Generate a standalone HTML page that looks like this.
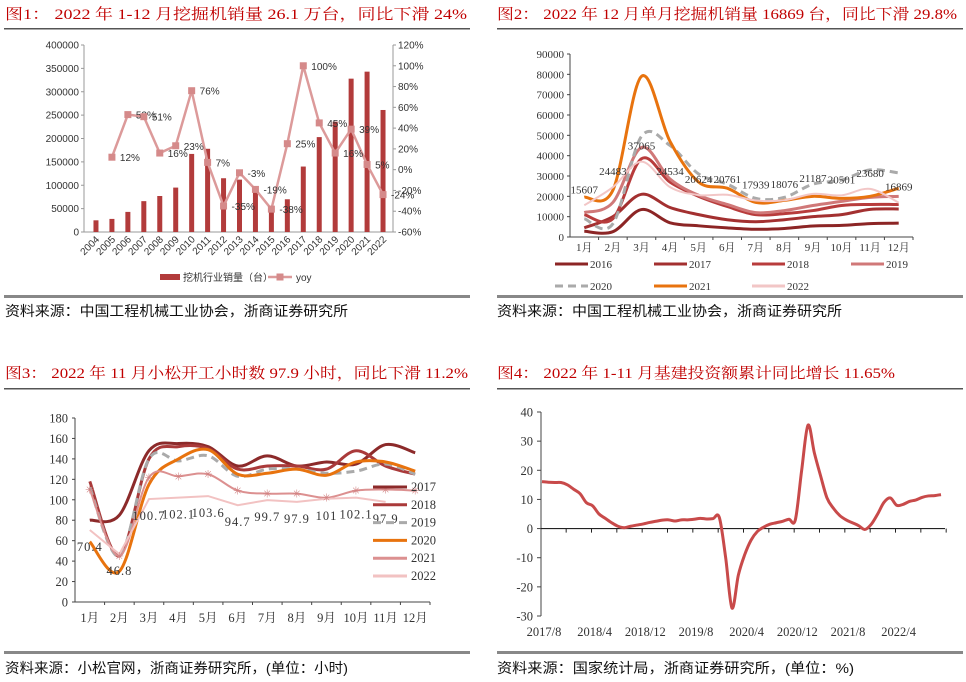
<!DOCTYPE html>
<html><head><meta charset="utf-8"><style>
body{margin:0;background:#fff;}
svg{display:block;}
.t{font-family:"Liberation Serif","Noto Serif CJK SC",serif;font-size:15px;fill:#c00000;}
.s{font-family:"Liberation Sans","Noto Sans CJK SC",sans-serif;font-size:14px;fill:#111;}
.a1{font-family:"Liberation Sans","Noto Sans CJK SC",sans-serif;font-size:10px;fill:#333;}
.a2{font-family:"Liberation Serif","Noto Serif CJK SC",serif;font-size:11px;fill:#333;}
.a3{font-family:"Liberation Serif","Noto Serif CJK SC",serif;font-size:12.5px;fill:#333;}
</style></head><body>
<svg id="svg" width="966" height="682" viewBox="0 0 966 682" xmlns="http://www.w3.org/2000/svg">
<text class="t" x="5" y="19" textLength="462" lengthAdjust="spacingAndGlyphs">图1：  2022 年 1-12 月挖掘机销量 26.1 万台，同比下滑 24%</text>
<text class="t" x="497" y="19" textLength="460" lengthAdjust="spacingAndGlyphs">图2：  2022 年 12 月单月挖掘机销量 16869 台，同比下滑 29.8%</text>
<text class="t" x="5" y="378" textLength="463" lengthAdjust="spacingAndGlyphs">图3：  2022 年 11 月小松开工小时数 97.9 小时，同比下滑 11.2%</text>
<text class="t" x="497" y="378" textLength="398" lengthAdjust="spacingAndGlyphs">图4：  2022 年 1-11 月基建投资额累计同比增长 11.65%</text>
<rect x="4" y="28" width="466" height="1.5" fill="#555"/>
<rect x="497" y="28" width="466" height="1.5" fill="#555"/>
<rect x="4" y="388" width="466" height="1.5" fill="#555"/>
<rect x="497" y="388" width="466" height="1.5" fill="#555"/>
<rect x="4" y="295" width="466" height="3" fill="#888"/>
<rect x="497" y="295" width="466" height="3" fill="#888"/>
<rect x="4" y="651" width="466" height="3" fill="#888"/>
<rect x="497" y="651" width="466" height="3" fill="#888"/>
<text class="s" x="5" y="316" textLength="343" lengthAdjust="spacingAndGlyphs">资料来源：中国工程机械工业协会，浙商证券研究所</text>
<text class="s" x="497" y="316" textLength="345" lengthAdjust="spacingAndGlyphs">资料来源：中国工程机械工业协会，浙商证券研究所</text>
<text class="s" x="5" y="673" textLength="343" lengthAdjust="spacingAndGlyphs">资料来源：小松官网，浙商证券研究所，(单位：小时)</text>
<text class="s" x="497" y="673" textLength="357" lengthAdjust="spacingAndGlyphs">资料来源：国家统计局，浙商证券研究所，(单位：%)</text>
<g id="c1"></g>
<g id="c2"></g>
<g id="c3"></g>
<g id="c4"></g>
</svg>
<script>
// ---- Chart 1 data ----
const years1 = ['2004','2005','2006','2007','2008','2009','2010','2011','2012','2013','2014','2015','2016','2017','2018','2019','2020','2021','2022'];
const sales1 = [25000,28000,43000,66000,77000,95000,167000,178000,115000,112000,91000,56000,70000,140000,203000,236000,328000,343000,261000];
const yoy1 = [null,12,53,51,16,23,76,7,-35,-3,-19,-38,25,100,45,16,39,5,-24];
const yoyLabels1 = ['','12%','53%','51%','16%','23%','76%','7%','-35%','-3%','-19%','-38%','25%','100%','45%','16%','39%','5%','-24%'];
const leftTicks1 = [0,50000,100000,150000,200000,250000,300000,350000,400000];
const rightTicks1 = [-60,-40,-20,0,20,40,60,80,100,120];
// ---- Chart 2 data ----
const months = ['1月','2月','3月','4月','5月','6月','7月','8月','9月','10月','11月','12月'];
const years2 = ['2016','2017','2018','2019','2020','2021','2022'];
const s2016 = [2800,2600,13500,7000,5500,4500,3800,4200,5400,5700,6600,6800];
const s2017 = [4500,10000,21000,14500,11000,8500,7500,8500,10000,11000,13600,13800];
const s2018 = [11000,9000,38500,27000,20000,15000,11000,11500,13000,15500,16000,16000];
const s2019 = [12000,17000,44000,28500,20500,16000,12000,13000,15500,17500,19500,20000];
const s2020 = [9000,6500,49500,45000,31000,26000,19000,19500,26000,28000,33000,31500];
const s2021 = [19600,23000,79000,47000,27000,24000,17000,18000,20000,19000,20000,24000];
const s2022 = [15607,24483,37065,24534,20624,20761,17939,18076,21187,20501,23680,16869];
const ticks2 = [0,10000,20000,30000,40000,50000,60000,70000,80000,90000];
// ---- Chart 3 data ----
const years3 = ['2017','2018','2019','2020','2021','2022'];
const h2017 = [80,85,148,155,152,133,143,133,137,135,154,146];
const h2018 = [118,45,140,152,150,130,133,133,130,148,133,125];
const h2019 = [112,45,140,138,143,123,130,130,126,128,135,125];
const h2020 = [59,30,115,140,149,125,126,130,124,137,137,128];
const h2021 = [110,45,122,123,125,109,106,106,102,109,110,109];
const h2022 = [70.4,46.8,100.7,102.1,103.6,94.7,99.7,97.9,101,102.1,97.9];
const h2022Labels = ['70.4','46.8','100.7','102.1','103.6','94.7','99.7','97.9','101','102.1','97.9'];
const ticks3 = [0,20,40,60,80,100,120,140,160,180];
// ---- Chart 4 data ----
const infra = [16.1,15.9,15.8,15.8,15.0,13.5,12.0,8.9,7.8,5.0,3.5,2.0,0.8,0.3,0.8,1.2,1.6,2.1,2.5,2.9,3.0,2.6,3.0,3.0,3.2,3.5,3.3,3.4,3.8,-10,-27.3,-16,-9,-4,-1,0.5,1.5,2.0,2.5,3.2,3.0,20,35.5,26,18,10.5,7,4.5,3,2,1,-0.3,1.5,5,9,10.5,8,8.3,9.3,9.8,10.7,11.2,11.3,11.65];
const dateLabels4 = ['2017/8','2018/4','2018/12','2019/8','2020/4','2020/12','2021/8','2022/4'];
const ticks4 = [-30,-20,-10,0,10,20,30,40];

const NS='http://www.w3.org/2000/svg';
function mk(parent,tag,attrs,txt){const e=document.createElementNS(NS,tag);for(const k in attrs)e.setAttribute(k,attrs[k]);if(txt!==undefined)e.textContent=txt;parent.appendChild(e);return e;}
function smooth(pts){let d='M'+pts[0][0]+','+pts[0][1];for(let i=0;i<pts.length-1;i++){const p0=pts[i-1]||pts[i],p1=pts[i],p2=pts[i+1],p3=pts[i+2]||p2;const c1x=p1[0]+(p2[0]-p0[0])/6,c1y=p1[1]+(p2[1]-p0[1])/6,c2x=p2[0]-(p3[0]-p1[0])/6,c2y=p2[1]-(p3[1]-p1[1])/6;d+=` C${c1x},${c1y} ${c2x},${c2y} ${p2[0]},${p2[1]}`;}return d;}

// ===== Chart 1 =====
(function(){
const g=document.getElementById('c1');
const X0=84,X1=393,Y0=232,Y1=45;
const step=(X1-X0-6)/years1.length;
const x=i=>X0+6+step*(i+0.5)-2;
const yl=v=>Y0-(v/400000)*(Y0-Y1);
const yr=v=>Y0-((v+60)/180)*(Y0-Y1);
let e=mk(g,'line',{x1:X0,y1:Y1,x2:X0,y2:Y0,stroke:'#999'});

e=mk(g,'line',{x1:X1,y1:Y1,x2:X1,y2:Y0,stroke:'#999'});

e=mk(g,'line',{x1:X0,y1:Y0,x2:X1,y2:Y0,stroke:'#999'});

leftTicks1.forEach(v=>{const t=mk(g,'text',{class:'a1',x:X0-5,y:yl(v)+3.5,'text-anchor':'end'},String(v));

mk(g,'line',{x1:X0-3,y1:yl(v),x2:X0,y2:yl(v),stroke:'#999'});});
rightTicks1.forEach(v=>{const t=mk(g,'text',{class:'a1',x:X1+5,y:yr(v)+3.5},v+'%');

mk(g,'line',{x1:X1,y1:yr(v),x2:X1+3,y2:yr(v),stroke:'#999'});});
sales1.forEach((v,i)=>{const r=mk(g,'rect',{x:x(i)-2.5,y:yl(v),width:5,height:Y0-yl(v),fill:'#b23b3b'});

const t=mk(g,'text',{class:'a1',x:x(i)+4,y:Y0+8,'text-anchor':'end',transform:`rotate(-45 ${x(i)+4} ${Y0+8})`},years1[i]);
});
const pts=[];yoy1.forEach((v,i)=>{if(v!==null)pts.push([x(i),yr(v)]);});
e=mk(g,'polyline',{points:pts.map(p=>p.join(',')).join(' '),fill:'none',stroke:'#dc9a9a','stroke-width':2.5});

yoy1.forEach((v,i)=>{if(v===null)return;const r=mk(g,'rect',{x:x(i)-3.5,y:yr(v)-3.5,width:7,height:7,fill:'#d58a8a'});

const t=mk(g,'text',{class:'a1',x:x(i)+8,y:yr(v)+4},yoyLabels1[i]);
});
e=mk(g,'rect',{x:160,y:274,width:20,height:6,fill:'#b23b3b'});

e=mk(g,'text',{class:'a1',x:183,y:281},'挖机行业销量（台）');

mk(g,'line',{x1:268,y1:277,x2:292,y2:277,stroke:'#dc9a9a','stroke-width':2.5});
e=mk(g,'rect',{x:276.5,y:273.5,width:7,height:7,fill:'#d58a8a'});

e=mk(g,'text',{class:'a1',x:296,y:281},'yoy');

})();

// ===== Chart 2 =====
(function(){
const g=document.getElementById('c2');
const X0=570,X1=913,Y0=237,Y1=54;const bw=(X1-X0)/12;
const x=i=>X0+bw*(i+0.5);const y=v=>Y0-v/90000*(Y0-Y1);
let e=mk(g,'line',{x1:X0,y1:Y1,x2:X0,y2:Y0,stroke:'#444'});

e=mk(g,'line',{x1:X0,y1:Y0,x2:X1,y2:Y0,stroke:'#444'});

ticks2.forEach(v=>{mk(g,'line',{x1:X0-3,y1:y(v),x2:X0,y2:y(v),stroke:'#444'});
const t=mk(g,'text',{class:'a2',x:X0-6,y:y(v)+4,'text-anchor':'end'},String(v));
});
months.forEach((m,i)=>{mk(g,'line',{x1:X0+bw*(i+1),y1:Y0,x2:X0+bw*(i+1),y2:Y0+3,stroke:'#444'});
const t=mk(g,'text',{class:'a2',x:x(i),y:Y0+14,'text-anchor':'middle'},m);
});
const series=[s2016,s2017,s2018,s2019,s2020,s2021,s2022];
const cols=['#8c2525','#a33030','#b83c3c','#d07878','#aaaaaa','#e8730e','#f2c6c6'];
const wid=[3,3,3,3,3,3,2];
series.forEach((s,k)=>{const p=mk(g,'path',{d:smooth(s.map((v,i)=>[x(i),y(v)])),fill:'none',stroke:cols[k],'stroke-width':wid[k],'stroke-dasharray':k===4?'8,5':'none'});
});
s2022.forEach((v,i)=>{const t=mk(g,'text',{class:'a2',x:x(i),y:y(v)-12,'text-anchor':'middle','font-size':'12'},String(v));
});
const lx=[555,654,752,851];
years2.forEach((yy,k)=>{const row=k<4?0:1,col=k%4;const ly=row?286:264;
const l=mk(g,'line',{x1:lx[col],y1:ly,x2:lx[col]+33,y2:ly,stroke:cols[k],'stroke-width':3,'stroke-dasharray':k===4?'8,5':'none'});

const t=mk(g,'text',{class:'a2',x:lx[col]+35,y:ly+4,'font-size':'10'},yy);
});
})();

// ===== Chart 3 =====
(function(){
const g=document.getElementById('c3');
const X0=75,X1=430,Y0=602,Y1=418;const bw=(X1-X0)/12;
const x=i=>X0+bw*(i+0.5);const y=v=>Y0-v/180*(Y0-Y1);
let e=mk(g,'line',{x1:X0,y1:Y1,x2:X0,y2:Y0,stroke:'#444'});

e=mk(g,'line',{x1:X0,y1:Y0,x2:X1,y2:Y0,stroke:'#444'});

ticks3.forEach(v=>{mk(g,'line',{x1:X0-3,y1:y(v),x2:X0,y2:y(v),stroke:'#444'});
const t=mk(g,'text',{class:'a3',x:X0-7,y:y(v)+4.5,'text-anchor':'end'},String(v));
});
months.forEach((m,i)=>{mk(g,'line',{x1:X0+bw*(i+1),y1:Y0,x2:X0+bw*(i+1),y2:Y0+3,stroke:'#444'});
const t=mk(g,'text',{class:'a3',x:x(i),y:Y0+20,'text-anchor':'middle'},m);
});
const series=[h2017,h2018,h2019,h2020,h2021,h2022];
const cols=['#8c2a2a','#aa3a3a','#aaaaaa','#e8730e','#dc9090','#f2c2c2'];
const wid=[3,3,3,3,2,2];
series.forEach((s,k)=>{const p=mk(g,'path',{d:k===5?'M'+s.map((v,i)=>x(i)+','+y(v)).join(' L'):smooth(s.map((v,i)=>[x(i),y(v)])),fill:'none',stroke:cols[k],'stroke-width':wid[k],'stroke-dasharray':k===2?'8,5':'none'});
});
h2021.forEach((v,i)=>{const t=mk(g,'text',{x:x(i),y:y(v)+4,'text-anchor':'middle','font-size':'11',fill:'#d08080','font-family':'DejaVu Sans'},'✳');
});
h2022.forEach((v,i)=>{const t=mk(g,'text',{class:'a3',x:x(i),y:y(v)+21,'text-anchor':'middle','font-size':'13','letter-spacing':'1'},h2022Labels[i]);
});
years3.forEach((yy,k)=>{const ly=487+k*17.8;
const l=mk(g,'line',{x1:373,y1:ly,x2:407,y2:ly,stroke:cols[k],'stroke-width':3,'stroke-dasharray':k===2?'8,5':'none'});

const t=mk(g,'text',{class:'a3',x:411,y:ly+4,'font-size':'11'},yy);
});
})();

// ===== Chart 4 =====
(function(){
const g=document.getElementById('c4');
const X0=541,X1=945,Y0=616,Y1=412;const dx=(941-542)/(infra.length-1);
const x=i=>542+dx*i;const y=v=>Y0-(v+30)/70*(Y0-Y1);
let e=mk(g,'line',{x1:X0,y1:Y1,x2:X0,y2:Y0,stroke:'#444'});

e=mk(g,'line',{x1:X0,y1:y(0),x2:X1,y2:y(0),stroke:'#222','stroke-width':1.2});

ticks4.forEach(v=>{mk(g,'line',{x1:X0-4,y1:y(v),x2:X0,y2:y(v),stroke:'#444'});
const t=mk(g,'text',{class:'a3',x:X0-8,y:y(v)+4.5,'text-anchor':'end','font-size':'13'},String(v));
});
for(let i=4;i<infra.length+1;i+=4){mk(g,'line',{x1:x(i)-dx*0.5+2,y1:y(0),x2:x(i)-dx*0.5+2,y2:y(0)+4,stroke:'#222'});}
dateLabels4.forEach((d,k)=>{const t=mk(g,'text',{class:'a3',x:x(k*8)+2,y:Y0+20,'text-anchor':'middle','font-size':'13'},d);
});
e=mk(g,'path',{d:smooth(infra.map((v,i)=>[x(i),y(v)])),fill:'none',stroke:'#c84a4a','stroke-width':3,'stroke-linejoin':'round'});

})();
</script>
</body></html>
